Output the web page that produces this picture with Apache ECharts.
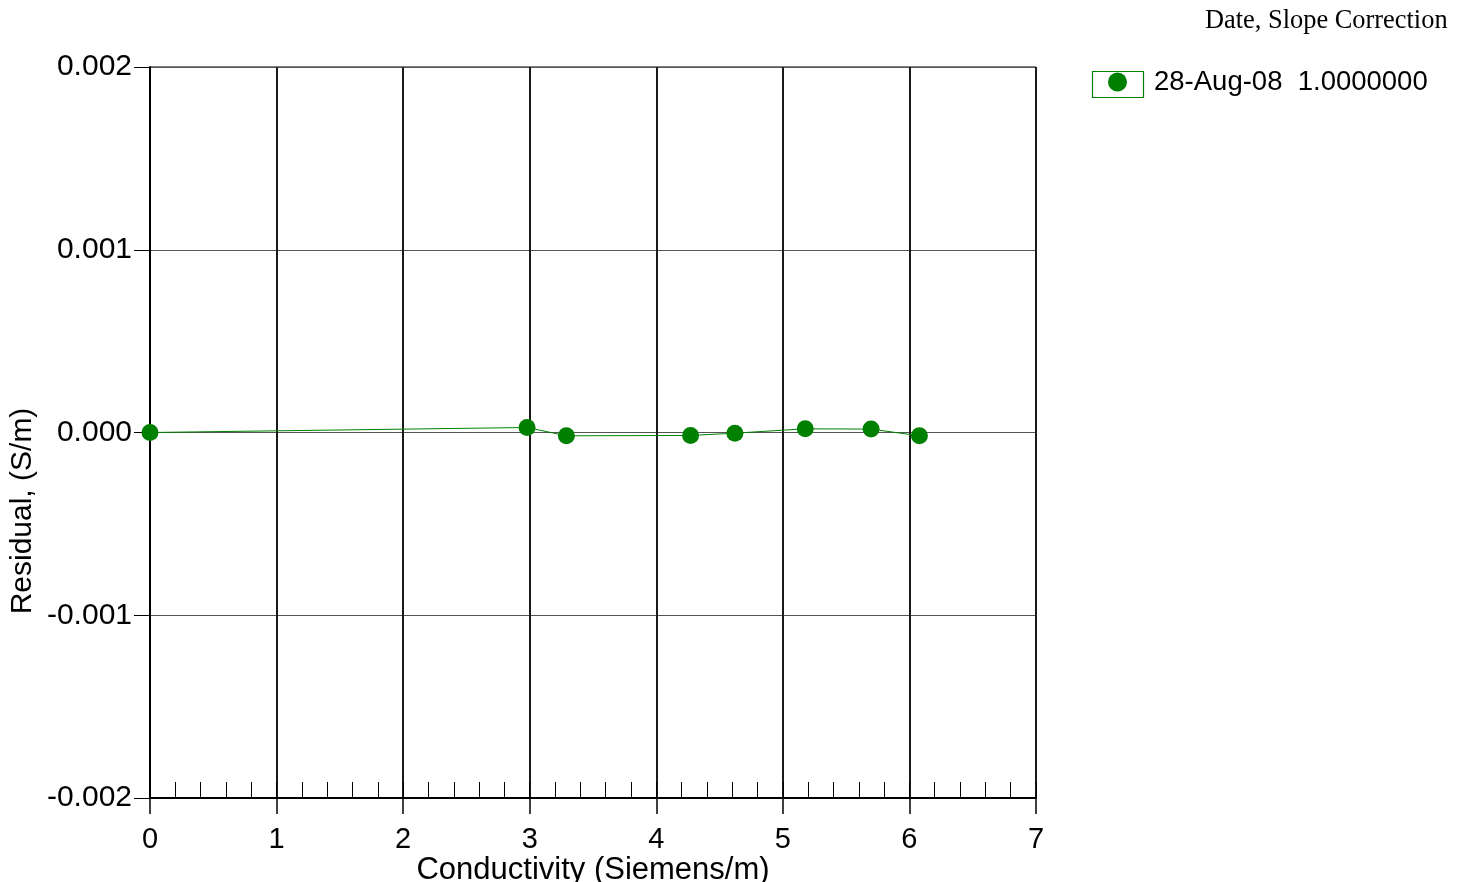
<!DOCTYPE html>
<html>
<head>
<meta charset="utf-8">
<script src="https://cdn.jsdelivr.net/npm/echarts@6/dist/echarts.min.js"></script>
<style>
  html, body { margin: 0; padding: 0; background: #fff; }
  #chart { width: 1465px; height: 882px; }
</style>
</head>
<body>
<div id="chart"></div>
<script>
'use strict';

// conductivity (S/m) and residual (S/m)
var conductivity = [0, 2.979, 3.290, 4.271, 4.621, 5.177, 5.697, 6.079];
var residual = [0, 0.0000274, -0.0000180, -0.0000164, -0.0000036, 0.0000202, 0.0000186, -0.0000180];
var seriesName = '28-Aug-08  1.0000000';
var legendTitle = 'Date, Slope Correction';

var chartDom = document.getElementById('chart');
var myChart = echarts.init(chartDom, null, {renderer: 'canvas'});
var font = 'Liberation Sans, Arial, Helvetica, sans-serif';

var option = {
  animation: false,
  backgroundColor: '#fff',
  grid: {
    left: 150, right: 429, top: 67, bottom: 84,
    outerBoundsMode: 'none',
    containLabel: false,
    show: true, borderColor: '#000', borderWidth: 1
  },
  legend: {
    left: 1108, top: 68,
    icon: 'circle',
    itemWidth: 19, itemHeight: 19,
    padding: 0,
    data: [seriesName],
    textStyle: {fontFamily: font, fontSize: 27.5, color: '#000', padding: [0, 0, 0, 22]}
  },
  xAxis: [
    {
      type: 'value', min: 0, max: 7, interval: 1,
      position: 'bottom',
      axisLine: {show: true, onZero: false, lineStyle: {color: '#000', width: 2}},
      axisTick: {show: true, length: 16, lineStyle: {color: '#000', width: 1.5}},
      axisLabel: {fontFamily: font, fontSize: 29, color: '#000', margin: 27},
      splitLine: {show: true, lineStyle: {color: '#1a1a1a', width: 2}},
      name: 'Conductivity (Siemens/m)',
      nameLocation: 'middle', nameGap: 57,
      nameMoveOverlap: false,
      nameTextStyle: {fontFamily: font, fontSize: 31, color: '#000'}
    },
    {
      // inward minor ticks every 0.2
      type: 'value', min: 0, max: 7, interval: 0.2,
      position: 'bottom',
      axisLine: {show: false, onZero: false},
      axisTick: {show: true, inside: true, length: 16, lineStyle: {color: '#000', width: 1}},
      axisLabel: {show: false},
      splitLine: {show: false}
    }
  ],
  yAxis: {
    type: 'value', min: -0.002, max: 0.002, interval: 0.001,
    axisLine: {show: true, onZero: false, lineStyle: {color: '#000', width: 2}},
    axisTick: {show: true, length: 16, lineStyle: {color: '#000', width: 1}},
    axisLabel: {
      fontFamily: font, fontSize: 30, color: '#000', margin: 18,
      formatter: function (v) { return v.toFixed(3); }
    },
    splitLine: {show: true, lineStyle: {color: '#555', width: 1}}
  },
  graphic: [
    {
      type: 'text', left: 1205, top: 8,
      style: {text: legendTitle, font: '26.4px "Liberation Serif", "Times New Roman", serif', fill: '#000'}
    },
    {
      type: 'rect', left: 1090, top: 69,
      shape: {width: 51, height: 26},
      style: {fill: 'none', stroke: '#008000', lineWidth: 1.2}
    },
    {
      type: 'text', x: 23, y: 511, rotation: Math.PI / 2,
      style: {
        text: 'Residual, (S/m)', font: '30px ' + font, fill: '#000',
        align: 'center', verticalAlign: 'middle'
      }
    }
  ],
  series: [
    {
      name: seriesName,
      type: 'line',
      xAxisIndex: 0,
      data: conductivity.map(function (c, i) { return [c, residual[i]]; }),
      symbol: 'circle', symbolSize: 17,
      showAllSymbol: true,
      lineStyle: {color: '#008000', width: 1},
      itemStyle: {color: '#008000'},
      clip: false
    }
  ]
};

myChart.setOption(option);
</script>
</body>
</html>
